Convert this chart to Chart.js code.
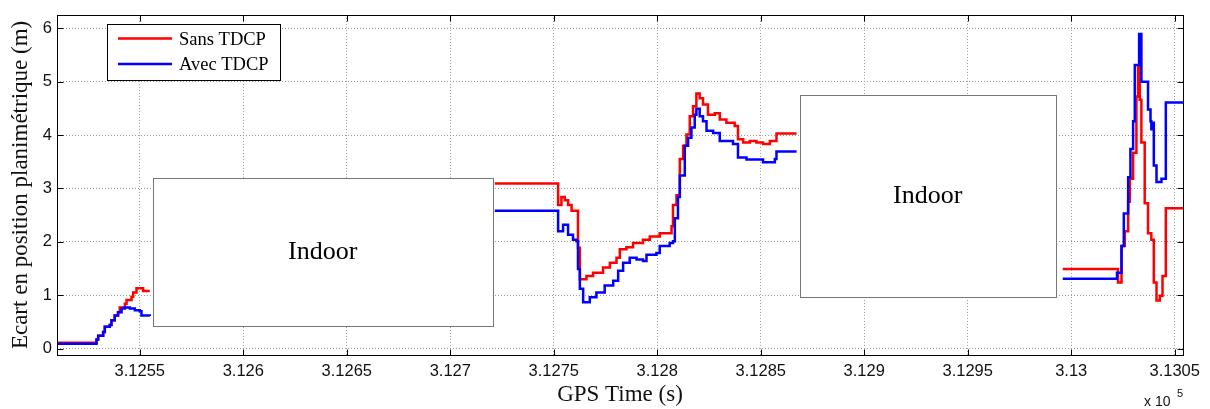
<!DOCTYPE html>
<html lang="fr">
<head>
  <meta charset="UTF-8">
  <title>Ecart en position planimétrique</title>
  <script src="https://cdn.jsdelivr.net/npm/chart.js"></script>
  <style>
    html, body { margin: 0; padding: 0; background: #fff; }
    #wrap { width: 1210px; height: 409px; position: relative; }
  </style>
</head>
<body>
  <div id="wrap"><canvas id="gpsChart"></canvas></div>
  <script>
    // temps GPS (s) et écart (m) ; null = coupure (indoor)
    const sansTime = [
      312510, 312527.4, 312529.1, 312529.9, 312532.3, 312533.1, 312535.5, 312536.3, 312537.9, 312539.5,
      312540.3, 312542.8, 312543.6, 312546, 312546.8, 312548.4, 312551.6, 312554.8,
      312640,
      312721.5, 312752.1, 312753.7, 312755.3, 312756.9, 312758.6, 312761.7, 312762.6, 312765.8, 312769,
      312773.8, 312777.1, 312780.3, 312781.9, 312785.1, 312788.3, 312793.1, 312796.4, 312801.2, 312806.9,
      312807.6, 312809.3, 312810.9, 312812.5, 312814.1, 312815.7, 312817.3, 312818.9, 312820.5, 312822.1,
      312824.5, 312827.8, 312830.2, 312833.4, 312837.4, 312839, 312841.5, 312844.7, 312847.9, 312851.1,
      312854.4, 312857.6, 312867.3,
      312930,
      312995.9, 313022.6, 313024.3, 313025.9, 313027.5, 313028.3, 313029.9, 313031.5, 313032.3, 313033.1,
      313033.9, 313035.5, 313037.1, 313038.7, 313039.9, 313041.2, 313042.8, 313044.1, 313045.7, 313054.4
    ];
    const sansValue = [
      0.11, 0.11, 0.17, 0.24, 0.31, 0.41, 0.44, 0.53, 0.62, 0.68,
      0.77, 0.84, 0.91, 0.97, 1.05, 1.13, 1.08, 1.08,
      null,
      3.09, 2.69, 2.84, 2.78, 2.69, 2.58, 1.89, 1.30, 1.36, 1.42,
      1.52, 1.61, 1.70, 1.86, 1.90, 1.98, 2.04, 2.10, 2.16, 2.29,
      2.69, 2.87, 3.55, 3.80, 4.01, 4.35, 4.54, 4.78, 4.69, 4.57,
      4.38, 4.41, 4.29, 4.23, 4.17, 3.92, 3.86, 3.89, 3.86, 3.83,
      3.89, 4.03, 4.03,
      null,
      1.49, 1.24, 1.92, 2.20, 2.75, 3.18, 3.67, 4.72, 5.28, 4.66,
      3.86, 2.72, 2.16, 2.04, 1.24, 0.90, 0.99, 1.36, 2.63, 2.63
    ];
    const avecTime = [
      312510, 312527.4, 312529.1, 312529.9, 312532.3, 312533.1, 312535.5, 312536.3, 312537.9, 312539.5,
      312541.2, 312542.8, 312545.2, 312547.6, 312550, 312550.8, 312554.8,
      312640,
      312721.5, 312752.1, 312754.5, 312756.9, 312759.3, 312761, 312761.7, 312762.6, 312764.2, 312767.4,
      312770.6, 312774.6, 312778.7, 312781.1, 312783.5, 312786.7, 312790, 312793.1, 312794.8, 312799.6,
      312801.2, 312806, 312807.6, 312808.5, 312810, 312810.9, 312813.3, 312814.9, 312816.5, 312818.1,
      312818.9, 312820.5, 312822.1, 312823.8, 312827, 312830.2, 312836.6, 312839, 312843.1, 312851.1,
      312856.8, 312857.6, 312867.3,
      312930,
      312995.9, 313022.1, 313024.3, 313025.4, 313027.5, 313028.6, 313029.9, 313030.7, 313032.8, 313033.9,
      313037.1, 313038.3, 313038.7, 313039.2, 313039.9, 313041.2, 313043.6, 313045.7, 313054.4
    ];
    const avecValue = [
      0.09, 0.09, 0.17, 0.24, 0.31, 0.41, 0.44, 0.53, 0.62, 0.68,
      0.75, 0.77, 0.75, 0.72, 0.70, 0.62, 0.61,
      null,
      2.58, 2.20, 2.32, 2.13, 2.04, 2.01, 1.49, 1.12, 0.87, 0.96,
      1.05, 1.18, 1.27, 1.46, 1.61, 1.70, 1.67, 1.64, 1.76, 1.79,
      1.92, 1.98, 2.01, 2.44, 2.84, 3.24, 3.80, 3.95, 4.14, 4.38,
      4.49, 4.35, 4.26, 4.08, 4.04, 3.89, 3.83, 3.58, 3.54, 3.49,
      3.55, 3.69, 3.69,
      null,
      1.31, 1.42, 1.92, 2.53, 3.21, 3.74, 4.26, 5.31, 5.89, 5.00,
      4.48, 4.26, 4.11, 4.23, 3.43, 3.12, 3.18, 4.61, 4.61
    ];
    const xTickValues = [312550, 312600, 312650, 312700, 312750, 312800, 312850, 312900, 312950, 313000, 313050];
    const yTickValues = [0, 1, 2, 3, 4, 5, 6];
    // zones sans réception (en unités des axes)
    const indoorZones = [
      { label: 'Indoor', from: 312556.3, to: 312720.5, low: 0.42, high: 3.19 },
      { label: 'Indoor', from: 312868.8, to: 312992.5, low: 0.97, high: 4.75 }
    ];

    const serif = "'Liberation Serif', 'Times New Roman', serif";
    const sans = "'Liberation Sans', Arial, sans-serif";

    const toPoints = (ts, vs) => ts.map((t, i) => ({ x: t, y: vs[i] }));

    const matlabLook = {
      id: 'matlabLook',
      beforeDatasetsDraw(chart) {
        const { ctx, scales: { x, y } } = chart;
        ctx.save();
        indoorZones.forEach(z => {
          const l = x.getPixelForValue(z.from), r = x.getPixelForValue(z.to);
          const t = y.getPixelForValue(z.high), b = y.getPixelForValue(z.low);
          ctx.fillStyle = '#fff';
          ctx.fillRect(l, t, r - l, b - t);
          ctx.strokeStyle = '#777';
          ctx.lineWidth = 1;
          ctx.strokeRect(Math.round(l) + 0.5, Math.round(t) + 0.5, Math.round(r - l), Math.round(b - t));
          ctx.fillStyle = '#000';
          ctx.font = '26px ' + serif;
          ctx.textAlign = 'center';
          ctx.textBaseline = 'middle';
          ctx.fillText(z.label, (l + r) / 2, (t + b) / 2);
        });
        ctx.restore();
      },
      afterDatasetsDraw(chart) {
        const { ctx, chartArea: a, scales: { x, y } } = chart;
        ctx.save();
        ctx.strokeStyle = '#000';
        ctx.lineWidth = 1;
        const L = Math.round(a.left) + 0.5, R = Math.round(a.right) + 0.5;
        const T = Math.round(a.top) + 0.5, B = Math.round(a.bottom) + 0.5;
        ctx.strokeRect(L, T, R - L, B - T);
        ctx.beginPath();
        xTickValues.forEach(v => {
          const px = Math.round(x.getPixelForValue(v)) + 0.5;
          ctx.moveTo(px, B); ctx.lineTo(px, B - 6);
          ctx.moveTo(px, T); ctx.lineTo(px, T + 6);
        });
        yTickValues.forEach(v => {
          const py = Math.round(y.getPixelForValue(v)) + 0.5;
          ctx.moveTo(L, py); ctx.lineTo(L + 6, py);
          ctx.moveTo(R, py); ctx.lineTo(R - 6, py);
        });
        ctx.stroke();

        // légende
        const lx = 107.5, ly = 24.5, lw = 173, lh = 56;
        ctx.fillStyle = '#fff';
        ctx.fillRect(lx, ly, lw, lh);
        ctx.strokeRect(lx, ly, lw, lh);
        ctx.font = '18.5px ' + serif;
        ctx.textBaseline = 'middle';
        ctx.textAlign = 'left';
        chart.data.datasets.forEach((ds, i) => {
          const yy = ly + 14 + i * 25.5;
          ctx.strokeStyle = ds.borderColor;
          ctx.lineWidth = 2.5;
          ctx.beginPath();
          ctx.moveTo(118, yy); ctx.lineTo(172, yy);
          ctx.stroke();
          ctx.fillStyle = '#000';
          ctx.fillText(ds.label, 179, yy + 1.5);
        });
        ctx.restore();
      },
      afterDraw(chart) {
        const { ctx } = chart;
        ctx.save();
        ctx.fillStyle = '#111';
        ctx.textBaseline = 'middle';
        ctx.font = '14px ' + sans;
        ctx.fillText('x 10', 1144, 402);
        ctx.font = '11px ' + sans;
        ctx.fillText('5', 1177, 394);
        ctx.restore();
      }
    };

    new Chart(document.getElementById('gpsChart'), {
      type: 'line',
      data: {
        datasets: [
          {
            label: 'Sans TDCP',
            data: toPoints(sansTime, sansValue),
            borderColor: '#ff0000',
            borderWidth: 2.5,
            stepped: 'before',
            pointRadius: 0,
            spanGaps: false,
            order: 1
          },
          {
            label: 'Avec TDCP',
            data: toPoints(avecTime, avecValue),
            borderColor: '#0000ff',
            borderWidth: 2.5,
            stepped: 'before',
            pointRadius: 0,
            spanGaps: false,
            order: 0
          }
        ]
      },
      options: {
        responsive: true,
        maintainAspectRatio: false,
        animation: false,
        layout: { padding: { top: 11, right: 27, left: 0, bottom: 0 } },
        plugins: { legend: { display: false }, tooltip: { enabled: false } },
        scales: {
          x: {
            type: 'linear',
            min: 312510,
            max: 313054,
            afterBuildTicks: s => { s.ticks = xTickValues.map(v => ({ value: v })); },
            afterFit: s => { s.height = 54; },
            grid: { color: '#9a9a9a', lineWidth: 1, drawTicks: false },
            border: { display: false, dash: [1, 2] },
            ticks: {
              padding: 7,
              maxRotation: 0,
              autoSkip: false,
              color: '#111',
              font: { family: sans, size: 16.5 },
              callback: v => (v / 1e5).toFixed(5).replace(/0+$/, '')
            },
            title: {
              display: true,
              text: 'GPS Time (s)',
              color: '#111',
              font: { family: serif, size: 23 },
              padding: { top: 0, bottom: 0 }
            }
          },
          y: {
            min: -0.12,
            max: 6.25,
            afterBuildTicks: s => { s.ticks = yTickValues.map(v => ({ value: v })); },
            afterFit: s => { s.width = 57; },
            grid: { color: '#9a9a9a', lineWidth: 1, drawTicks: false },
            border: { display: false, dash: [1, 2] },
            ticks: {
              padding: 5,
              color: '#111',
              font: { family: sans, size: 16.5 }
            },
            title: {
              display: true,
              text: 'Ecart en position planimétrique (m)',
              color: '#111',
              font: { family: serif, size: 23 },
              padding: { top: 7, bottom: 0 }
            }
          }
        }
      },
      plugins: [matlabLook]
    });
  </script>
</body>
</html>
